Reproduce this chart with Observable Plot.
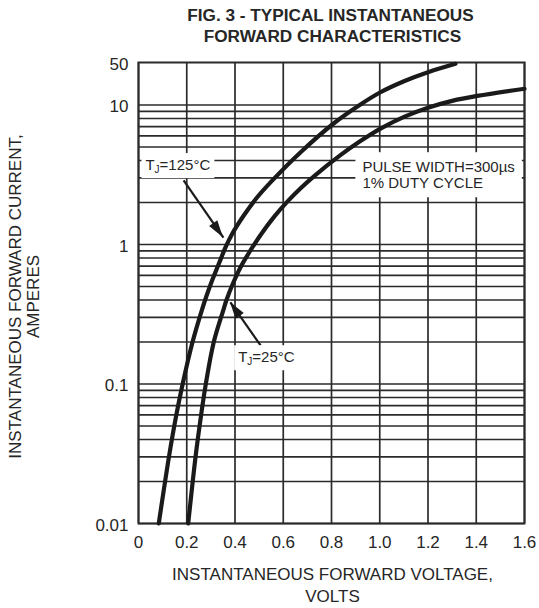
<!DOCTYPE html>
<html>
<head>
<meta charset="utf-8">
<script src="https://cdn.jsdelivr.net/npm/d3@7"></script>
<script src="https://cdn.jsdelivr.net/npm/@observablehq/plot@0.6"></script>
<style>
  body { margin: 0; background: #fff; }
  #chart svg { display: block; }
</style>
</head>
<body>
<div id="chart"></div>
<script>
// ---------- data ----------
const chartTitle = ["FIG. 3 - TYPICAL INSTANTANEOUS", "FORWARD CHARACTERISTICS"];
const xTitle = ["INSTANTANEOUS FORWARD VOLTAGE,", "VOLTS"];
const yTitle = ["INSTANTANEOUS FORWARD CURRENT,", "AMPERES"];

const xTicks = [0, 0.2, 0.4, 0.6, 0.8, 1.0, 1.2, 1.4, 1.6];
const xTickLabels = ["0", "0.2", "0.4", "0.6", "0.8", "1.0", "1.2", "1.4", "1.6"];
const yTicks = [0.01, 0.1, 1, 10, 50];
const yTickLabels = ["0.01", "0.1", "1", "10", "50"];
// the printed axis is logarithmic up to 10, then compressed up to 50
const yBreaks = [0.01, 10, 50];
const yGridLines = [
  0.01, 0.02, 0.03, 0.04, 0.05, 0.06, 0.07, 0.08, 0.09,
  0.1, 0.2, 0.3, 0.4, 0.5, 0.6, 0.7, 0.8, 0.9,
  1, 2, 3, 4, 5, 6, 7, 8, 9,
  10
];

// Tj = 125 °C
const voltage125 = [0.084, 0.127, 0.156, 0.183, 0.224, 0.262, 0.280, 0.305, 0.333, 0.361, 0.388, 0.437, 0.492, 0.554, 0.671, 0.81, 0.92, 1.003, 1.103, 1.203, 1.314];
const current125 = [0.01, 0.0306, 0.059, 0.1, 0.2, 0.336, 0.419, 0.552, 0.727, 0.956, 1.19, 1.62, 2.18, 2.87, 4.57, 7.4, 10.2, 16.2, 24.8, 34.9, 47.6];
// Tj = 25 °C
const voltage25 = [0.206, 0.237, 0.259, 0.279, 0.312, 0.351, 0.364, 0.391, 0.423, 0.464, 0.506, 0.561, 0.616, 0.671, 0.727, 0.837, 0.92, 1.003, 1.103, 1.203, 1.30, 1.404, 1.6];
const current25 = [0.01, 0.0306, 0.059, 0.1, 0.2, 0.336, 0.397, 0.523, 0.688, 0.906, 1.17, 1.57, 2.02, 2.52, 3.08, 4.37, 5.51, 6.77, 8.25, 9.6, 11.7, 14.1, 18.5];

// annotations
const labelTexts = ["TJ=125°C", "TJ=25°C"];
const labelV = [0.163, 0.53];
const labelI = [3.7, 0.155];
const arrowV1 = [0.187, 0.506];
const arrowI1 = [2.88, 0.189];
const arrowV2 = [0.352, 0.381];
const arrowI2 = [1.12, 0.384];
const noteLines = ["PULSE WIDTH=300µs", "1% DUTY CYCLE"];
const noteV = [0.928, 0.928];
const noteI = [3.57, 2.74];

// ---------- tables ----------
const curve125 = voltage125.map((v, i) => ({v, i: current125[i]}));
const curve25 = voltage25.map((v, i) => ({v, i: current25[i]}));
const labels = labelTexts.map((t, k) => ({t, v: labelV[k], i: labelI[k]}));
const arrows = arrowV1.map((v, k) => ({v1: v, i1: arrowI1[k], v2: arrowV2[k], i2: arrowI2[k]}));
const notes = noteLines.map((t, k) => ({t, v: noteV[k], i: noteI[k]}));

const W = 539, H = 608;
const mL = 138, mR = 15, mT = 62, mB = 85;
const ink = "#1a1a1a", grid = "#2b2b2b", txt = "#262626";
const font = "'Liberation Sans', Arial, Helvetica, sans-serif";

const chart = Plot.plot({
  width: W, height: H,
  marginLeft: mL, marginRight: mR, marginTop: mT, marginBottom: mB,
  style: {fontFamily: font, fontSize: "16px", background: "#fff", color: txt},
  x: {domain: [0, 1.6], axis: null},
  y: {type: "log", domain: yBreaks, range: [H - mB, 104.5, mT], axis: null},
  marks: [
    Plot.ruleY(yGridLines, {stroke: grid, strokeWidth: 1.7}),
    Plot.ruleX(xTicks, {stroke: grid, strokeWidth: 1.7}),
    Plot.frame({stroke: grid, strokeWidth: 2}),
    Plot.line(curve125, {x: "v", y: "i", stroke: ink, strokeWidth: 4.2, curve: "catmull-rom"}),
    Plot.line(curve25, {x: "v", y: "i", stroke: ink, strokeWidth: 4.2, curve: "catmull-rom"}),
    Plot.link(arrows, {x1: "v1", y1: "i1", x2: "v2", y2: "i2", stroke: ink, strokeWidth: 2.2}),
    Plot.text(labels, {x: "v", y: "i", text: "t", fontSize: 15, fill: txt, className: "annot"}),
    Plot.text(notes, {x: "v", y: "i", text: "t", fontSize: 15, fill: txt, textAnchor: "start", className: "annot-note"}),
    // tick labels
    Plot.text(xTicks, {x: d => d, frameAnchor: "bottom", lineAnchor: "middle", dy: 19, text: (d, k) => xTickLabels[k], fontSize: 17, fill: txt}),
    Plot.text(yTicks, {y: d => d, frameAnchor: "left", lineAnchor: "middle", dx: -10, dy: 2, textAnchor: "end", text: (d, k) => yTickLabels[k], fontSize: 17, fill: txt}),
    // titles
    Plot.text([chartTitle[0]], {frameAnchor: "top", lineAnchor: "middle", textAnchor: "middle", dy: -47.4, dx: -1, fontWeight: "bold", fontSize: 17.2, fill: txt}),
    Plot.text([chartTitle[1]], {frameAnchor: "top", lineAnchor: "middle", textAnchor: "middle", dy: -26, dx: 1, fontWeight: "bold", fontSize: 17.2, fill: txt}),
    Plot.text([xTitle[0]], {frameAnchor: "bottom", lineAnchor: "middle", textAnchor: "middle", dy: 51, dx: 1, fontSize: 17, fill: txt}),
    Plot.text([xTitle[1]], {frameAnchor: "bottom", lineAnchor: "middle", textAnchor: "middle", dy: 73, dx: 1, fontSize: 17, fill: txt}),
    Plot.text([yTitle[0]], {frameAnchor: "left", lineAnchor: "middle", textAnchor: "middle", dx: -123, dy: 3.5, rotate: -90, fontSize: 17, fill: txt}),
    Plot.text([yTitle[1]], {frameAnchor: "left", lineAnchor: "middle", textAnchor: "middle", dx: -105, dy: 3.5, rotate: -90, fontSize: 17, fill: txt})
  ]
});

document.getElementById("chart").appendChild(chart);

// subscript J in the Tj labels
const svg = d3.select(chart);
svg.selectAll("g.annot text").each(function() {
  const s = this.textContent;
  if (!s.startsWith("TJ")) return;
  const el = d3.select(this);
  el.text(null);
  el.append("tspan").text("T");
  el.append("tspan").attr("font-size", 10).attr("dy", 3).text("J");
  el.append("tspan").attr("dy", -3).text(s.slice(2));
});

// white boxes behind annotation texts
function addBoxes(selector, px, py, perText) {
  svg.selectAll(selector).each(function() {
    const g = this;
    const texts = d3.select(g).selectAll("text").nodes();
    const gm = g.getCTM();
    const rects = texts.map(t => {
      const b = t.getBBox();
      const m = t.getCTM();
      const ox = m.e - gm.e, oy = m.f - gm.f;
      return {x0: b.x + ox, y0: b.y + oy, x1: b.x + b.width + ox, y1: b.y + b.height + oy};
    });
    const groups = perText ? rects.map(r => [r]) : [rects];
    groups.forEach(rs => {
      const x0 = d3.min(rs, r => r.x0) - px, x1 = d3.max(rs, r => r.x1) + px;
      const y0 = d3.min(rs, r => r.y0) - py, y1 = d3.max(rs, r => r.y1) + py;
      d3.select(g).insert("rect", ":first-child")
        .attr("x", x0).attr("y", y0).attr("width", x1 - x0).attr("height", y1 - y0)
        .attr("fill", "#fff");
    });
  });
}
addBoxes("g.annot", 4, 3, true);
addBoxes("g.annot-note", 7, 6, false);

// filled arrowheads, placed through the chart's own scales
const sx = chart.scale("x"), sy = chart.scale("y");
arrows.forEach(a => {
  const xA = sx.apply(a.v1), yA = sy.apply(a.i1);
  const xB = sx.apply(a.v2), yB = sy.apply(a.i2);
  const ang = Math.atan2(yB - yA, xB - xA);
  const L = 17, hw = 5;
  const bx = xB - L * Math.cos(ang), by = yB - L * Math.sin(ang);
  const nx = -Math.sin(ang), ny = Math.cos(ang);
  svg.append("polygon")
    .attr("points", [[xB, yB], [bx + nx * hw, by + ny * hw], [bx - nx * hw, by - ny * hw]].map(p => p.join(",")).join(" "))
    .attr("fill", ink);
});
</script>
</body>
</html>
